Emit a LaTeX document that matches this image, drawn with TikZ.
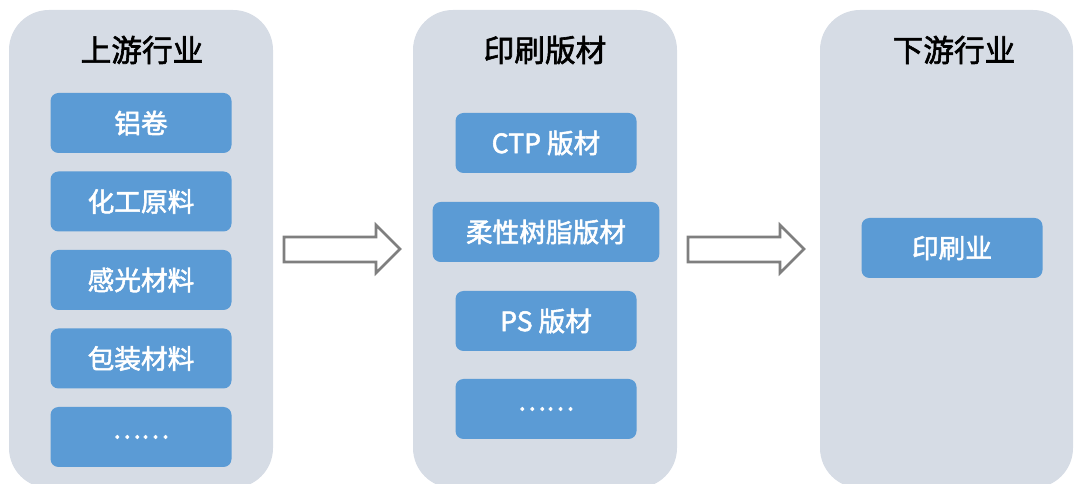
\documentclass[tikz,border=0pt]{standalone}
\usepackage{fontspec}
\newfontfamily\cjk{Noto Sans CJK SC}[FakeBold=2]
\definecolor{panelgray}{HTML}{D6DCE5}
\definecolor{boxblue}{HTML}{5B9BD5}
\definecolor{arrowgray}{HTML}{7F7F7F}

\begin{document}
\begin{tikzpicture}[x=0.75pt,y=-0.75pt,
    panel/.style={fill=panelgray, rounded corners=30pt},
    item/.style={fill=boxblue, rounded corners=6pt, minimum width=135.75pt, minimum height=45pt, inner sep=0pt, text=white, font=\cjk\fontsize{20}{24}\selectfont},
    title/.style={font=\cjk\fontsize{23}{27}\selectfont},
    bigarrow/.style={draw=arrowgray, line width=2pt, fill=white}]
    \clip (0,0) rectangle (1075,484);
    % three columns
    \fill[panel] (9,10) rectangle (273,488);
    \fill[panel] (413,10) rectangle (677,488);
    \fill[panel] (820,10) rectangle (1073,488);
    \node[title] (up) at (142,50) {上游行业};
    \node[title] (mid) at (545,50) {印刷版材};
    \node[title] (down) at (954,50) {下游行业};
    % upstream
    \foreach \t [count=\i] in {铝卷,化工原料,感光材料,包装材料,……}
        \node[item] (u\i) at (141,{123+78.5*(\i-1)}) {\t};
    % plates
    \node[item] (m1) at (546,143) {CTP 版材};
    \node[item, minimum width=170pt] (m2) at (546,232) {柔性树脂版材};
    \node[item] (m3) at (546,321) {PS 版材};
    \node[item] (m4) at (546,409) {……};
    % downstream
    \node[item] (d1) at (952,248) {印刷业};
    % arrows
    \draw[bigarrow] (284,237)--(376,237)--(376,225)--(400,249)--(376,273)--(376,262)--(284,262)--cycle;
    \draw[bigarrow] (688,237)--(780,237)--(780,225)--(804,249)--(780,273)--(780,262)--(688,262)--cycle;
\end{tikzpicture}
\end{document}
